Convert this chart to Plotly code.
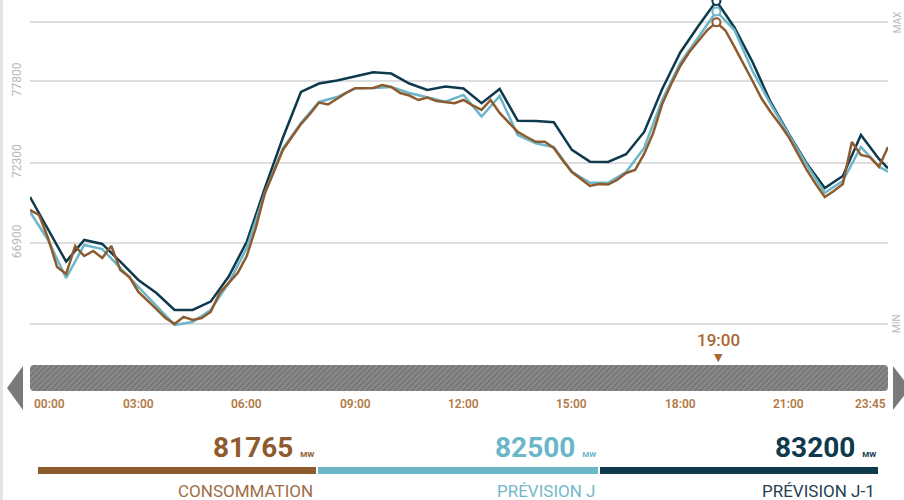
import plotly.graph_objects as go
import pandas as pd

# ---------------- data ----------------
DAY = "2024-01-01"

# Consommation (15-min resolution, 00:00 -> 23:45), MW
CONSO = [
    69140, 68800, 67250, 65300, 64830, 66710, 66040, 66380, 65910, 66710,
    65100, 64630, 63620, 63010, 62470, 61870, 61470, 61940, 61730, 61870,
    62270, 63550, 64220, 64900, 66040, 67930, 70250, 71730, 73180, 74050,
    74920, 75600, 76370, 76240, 76640, 77010, 77330, 77330, 77350, 77550,
    77420, 77010, 76840, 76540, 76710, 76470, 76370, 76320, 76540, 76170,
    75870, 76540, 75670, 75030, 74390, 74050, 73730, 73730, 73310, 72470,
    71690, 71220, 70750, 70890, 70850, 71160, 71630, 71830, 72910, 74320,
    76270, 77620, 78830, 79770, 80510, 81250, 81765, 81220, 80110, 79000,
    77820, 76640, 75730, 74920, 74050, 72940, 71830, 70890, 70010, 70420,
    70890, 73710, 72840, 72700, 72050, 73380,
]

# Prévision J (30-min resolution + 23:45), MW
PREV_J = [
    69000, 67120, 64560, 66780, 66510, 65230, 63950, 62680, 61400, 61600,
    62410, 64220, 66580, 70280, 73280, 74990, 76410, 76740, 77330, 77350,
    77420, 77010, 76740, 76430, 76880, 75420, 76810, 74180, 73630, 73360,
    71710, 70970, 70970, 71690, 73310, 76540, 79030, 80780, 82500, 81250,
    78490, 76270, 74250, 72170, 70300, 71090, 73380, 72050, 71710,
]

# Prévision J-1 (30-min resolution + 23:45), MW
PREV_J1 = [
    70010, 67800, 65660, 67120, 66850, 65660, 64430, 63550, 62410, 62410,
    62970, 64660, 67000, 70600, 74000, 77080, 77650, 77850, 78120, 78400,
    78320, 77650, 77210, 77440, 77310, 76320, 77280, 75150, 75130, 75040,
    73180, 72390, 72370, 72890, 74390, 77280, 79740, 81520, 83200, 81420,
    79100, 76410, 74280, 72270, 70620, 71430, 74180, 72570, 71940,
]

TICK_LABELS = ["00:00", "03:00", "06:00", "09:00", "12:00", "15:00", "18:00", "21:00", "23:45"]
Y_TICKS = [66900, 72300, 77800]
SELECTED = "19:00"
SUMMARY_VALUES = [81765, 82500, 83200]
SUMMARY_LABELS = ["CONSOMMATION", "PRÉVISION J", "PRÉVISION J-1"]
UNIT = "MW"

# ---------------- styling ----------------
W, H = 904, 500
C_CONSO = "#8e5b2e"
C_J = "#6bb6c9"
C_J1 = "#0f3a4e"
LABEL_COLORS = ["#9e6d47", "#72b8ca", "#243f50"]
NUM_COLORS = [C_CONSO, C_J, C_J1]
TIME_COLOR = "#b27a47"


def px(x):
    return x / W


def py(y):
    return 1 - y / H


t15 = pd.date_range(DAY, periods=len(CONSO), freq="15min")
t30 = list(pd.date_range(DAY, periods=len(PREV_J) - 1, freq="30min")) + [t15[-1]]

fig = go.Figure()

series = [
    (t30, PREV_J1, C_J1),
    (t30, PREV_J, C_J),
    (list(t15), CONSO, C_CONSO),
]
for xs, ys, col in series:
    fig.add_trace(go.Scatter(x=xs, y=ys, mode="lines",
                             line=dict(color=col, width=2.5),
                             hoverinfo="skip"))

# peak markers
for xs, ys, col in series:
    i = ys.index(max(ys))
    fig.add_trace(go.Scatter(x=[xs[i]], y=[ys[i]], mode="markers",
                             marker=dict(size=8, color="white",
                                         line=dict(color=col, width=2)),
                             cliponaxis=False, hoverinfo="skip"))

# timeline bar
hours_span = (t15[-1] - t15[0]).total_seconds() / 3600
fig.add_trace(go.Bar(x=[hours_span], y=[0], base=[0], orientation="h",
                     width=1, xaxis="x2", yaxis="y2", hoverinfo="skip",
                     marker=dict(color="#7d7d7d", cornerradius=4,
                                 line=dict(width=0),
                                 pattern=dict(shape="/", bgcolor="#8a8a8a",
                                              fgcolor="#5e5e5e", size=4,
                                              solidity=0.45))))

ymin, ymax = min(CONSO), max(CONSO)

fig.update_layout(
    width=W, height=H,
    margin=dict(l=0, r=0, t=0, b=0),
    paper_bgcolor="white", plot_bgcolor="white",
    showlegend=False,
    xaxis=dict(domain=[px(30), px(888)], range=[t15[0], t15[-1]],
               visible=False, anchor="y"),
    yaxis=dict(domain=[py(330), 1], range=[61060, 83270],
               tickvals=[ymin] + Y_TICKS + [ymax],
               ticktext=[""] + [str(v) for v in Y_TICKS] + [""],
               tickangle=-90, showgrid=True, gridcolor="#dedede",
               gridwidth=1.5, zeroline=False, showline=False, ticks="",
               ticklabelstandoff=6,
               tickfont=dict(family="Roboto", size=12, color="#b8b8b8"),
               anchor="x"),
    xaxis2=dict(domain=[px(30), px(888)], range=[0, hours_span],
                visible=False, anchor="y2"),
    yaxis2=dict(domain=[py(391), py(365)], range=[-0.5, 0.5],
                visible=False, anchor="x2"),
)

shapes = []
# left border
shapes.append(dict(type="rect", xref="paper", yref="paper",
                   x0=0, x1=px(3), y0=0, y1=1,
                   fillcolor="#e4e4e4", line=dict(width=0), layer="below"))
# arrows
shapes.append(dict(type="path", xref="paper", yref="paper",
                   path=f"M {px(7)},{py(388)} L {px(23)},{py(366)} L {px(23)},{py(410)} Z",
                   fillcolor="#7a7a7a", line=dict(width=0)))
shapes.append(dict(type="path", xref="paper", yref="paper",
                   path=f"M {px(893)},{py(366)} L {px(910)},{py(388)} L {px(893)},{py(410)} Z",
                   fillcolor="#7a7a7a", line=dict(width=0)))
# summary bars
bar_x = [(38, 316), (318, 598), (600, 878)]
for (x0, x1), col in zip(bar_x, NUM_COLORS):
    shapes.append(dict(type="rect", xref="paper", yref="paper",
                       x0=px(x0), x1=px(x1), y0=py(474), y1=py(467),
                       fillcolor=col, line=dict(width=0)))
fig.update_layout(shapes=shapes)

ann = []
# time labels
for lab in TICK_LABELS:
    t = pd.Timestamp(f"{DAY} {lab}")
    if lab == TICK_LABELS[0]:
        xa, xs = "left", 2
    elif lab == TICK_LABELS[-1]:
        xa, xs = "right", 0
    else:
        xa, xs = "center", 0
    ann.append(dict(x=t, xref="x", y=py(404), yref="paper", text=lab,
                    showarrow=False, xanchor=xa, yanchor="middle", xshift=xs,
                    font=dict(family="Roboto", size=12, color=TIME_COLOR,
                              weight=600)))
# selected time
ts = pd.Timestamp(f"{DAY} {SELECTED}")
ann.append(dict(x=ts, xref="x", y=py(340), yref="paper", text=SELECTED,
                showarrow=False, xanchor="center", yanchor="middle", xshift=2,
                font=dict(family="Roboto", size=17, color="#a9672f", weight=500)))
ann.append(dict(x=ts, xref="x", y=py(357), yref="paper", text="▼",
                showarrow=False, xanchor="center", yanchor="middle", xshift=2,
                font=dict(family="DejaVu Sans", size=11, color="#a9672f")))
# MAX / MIN
for txt, v in (("MAX", ymax), ("MIN", ymin)):
    ann.append(dict(x=px(897), xref="paper", y=v, yref="y", text=txt,
                    textangle=-90, showarrow=False, xanchor="center",
                    yanchor="middle",
                    font=dict(family="Roboto", size=10, color="#bbbbbb")))
# summary numbers and labels
for (x0, x1), val, lab, ncol, lcol in zip(bar_x, SUMMARY_VALUES, SUMMARY_LABELS,
                                          NUM_COLORS, LABEL_COLORS):
    ann.append(dict(x=px(x1), xref="paper", y=py(447), yref="paper",
                    text=f"{val} <span style='font-size:8px'>{UNIT}</span>",
                    showarrow=False, xanchor="right", yanchor="middle",
                    font=dict(family="Roboto", size=28, color=ncol, weight="bold")))
    ann.append(dict(x=px(x1 - 1), xref="paper", y=py(491), yref="paper",
                    text=lab, showarrow=False, xanchor="right", yanchor="middle",
                    font=dict(family="Roboto", size=17, color=lcol)))
fig.update_layout(annotations=ann)

fig.write_html("out.html", config={"displayModeBar": False},
               post_script="document.body.style.margin='0';document.body.style.overflow='hidden';")
